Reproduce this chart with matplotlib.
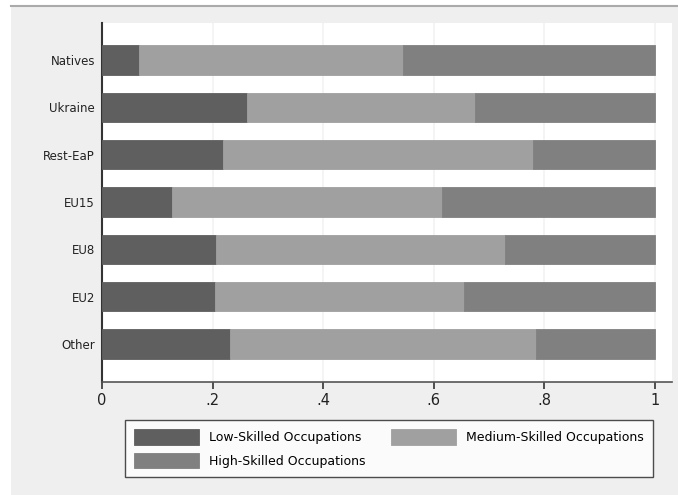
import matplotlib
matplotlib.use("Agg")
import matplotlib.pyplot as plt
from matplotlib.patches import Rectangle
import numpy as np

# shares of each occupation skill level by origin group
groups = ["Natives", "Ukraine", "Rest-EaP", "EU15", "EU8", "EU2", "Other"]
low_skilled = [0.067, 0.262, 0.218, 0.126, 0.207, 0.204, 0.231]
medium_skilled = [0.478, 0.412, 0.561, 0.489, 0.522, 0.451, 0.554]
high_skilled = [0.455, 0.326, 0.221, 0.385, 0.271, 0.345, 0.215]
xtick_vals = [0, 0.2, 0.4, 0.6, 0.8, 1]
xtick_labels = ["0", ".2", ".4", ".6", ".8", "1"]

LOW = "#5f5f5f"
MED = "#a0a0a0"
HIGH = "#808080"
BG = "#efefef"

fig = plt.figure(figsize=(6.78, 4.95), dpi=100, facecolor="white")
# grey panel with top border line
fig.patches.append(Rectangle((11/678, 0), 1, 1 - 6/495, transform=fig.transFigure,
                             facecolor=BG, edgecolor="none", zorder=-10))
fig.lines.append(plt.Line2D([11/678, 1], [1 - 5.5/495, 1 - 5.5/495],
                            transform=fig.transFigure, color="#aaaaaa", lw=1.5))

ax = fig.add_axes([102/678, 1 - 382/495, 570/678, 359/495])
ax.set_facecolor("white")

y = np.arange(len(groups))
low = np.array(low_skilled)
med = np.array(medium_skilled)
high = np.array(high_skilled)
h = 0.62
b1 = ax.barh(y, low, height=h, color=LOW, edgecolor=LOW, lw=0.6, zorder=3,
             label="Low-Skilled Occupations")
b2 = ax.barh(y, med, left=low, height=h, color=MED, edgecolor=MED, lw=0.6, zorder=3,
             label="Medium-Skilled Occupations")
b3 = ax.barh(y, high, left=low + med, height=h, color=HIGH, edgecolor=HIGH, lw=0.6,
             zorder=3, label="High-Skilled Occupations")

ax.set_xlim(0, 1.031)
ax.set_ylim(6.8, -0.78)
ax.set_yticks(y)
ax.set_yticklabels(groups, fontsize=8.5, color="#222222")
ax.tick_params(axis="y", length=0, pad=5)
ax.set_xticks(xtick_vals)
ax.set_xticklabels(xtick_labels, fontsize=10.5, color="#222222")
ax.tick_params(axis="x", length=5, width=1.2, color="#333333", pad=3)
ax.grid(axis="x", color="#f2f2f2", lw=1.2, zorder=0)
ax.set_axisbelow(True)

for s in ["top", "right"]:
    ax.spines[s].set_visible(False)
ax.spines["left"].set_color("#333333")
ax.spines["left"].set_linewidth(1.5)
ax.spines["bottom"].set_color("#555555")
ax.spines["bottom"].set_linewidth(1.2)

leg = fig.legend([b1, b3, b2],
                 ["Low-Skilled Occupations", "High-Skilled Occupations",
                  "Medium-Skilled Occupations"],
                 ncol=2, loc="upper left", bbox_to_anchor=(125/678, 1 - 420/495),
                 fontsize=9, frameon=True, fancybox=False, handlelength=5.2,
                 handleheight=1.5, handletextpad=0.8, columnspacing=2.0,
                 borderpad=0.75, labelspacing=0.65, borderaxespad=0)
leg.get_frame().set_edgecolor("#222222")
leg.get_frame().set_linewidth(1.0)

fig.savefig("out.png", dpi=100, facecolor="white")
